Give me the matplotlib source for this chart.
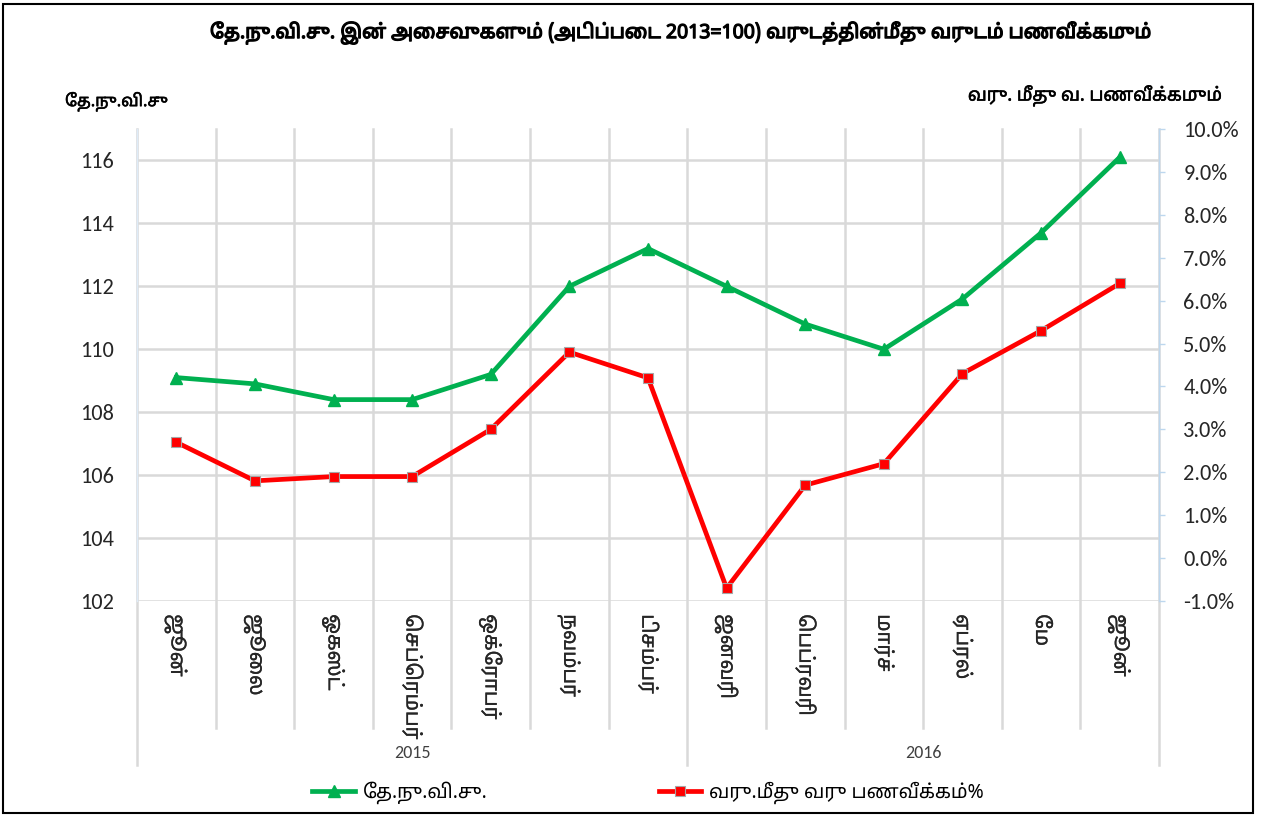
import matplotlib
matplotlib.use("Agg")
import matplotlib.pyplot as plt
import matplotlib.patheffects as pe
from matplotlib.lines import Line2D
from matplotlib.patches import Rectangle
from matplotlib.ticker import FixedLocator, FuncFormatter
import matplotlib.transforms as mtransforms

# ---- data -------------------------------------------------------------
months = ["ஜூன்", "ஜூலை", "ஓகஸ்ட்", "செப்ரெம்பர்", "ஒக்ரோபர்", "நவம்பர்",
          "டிசம்பர்", "ஜனவரி", "பெப்ரவரி", "மார்ச்", "ஏப்ரல்", "மே", "ஜூன்"]
years = ["2015", "2016"]
months_per_year = [7, 6]
ccpi = [109.1, 108.9, 108.4, 108.4, 109.2, 112.0, 113.2,
        112.0, 110.8, 110.0, 111.6, 113.7, 116.1]
inflation = [2.7, 1.8, 1.9, 1.9, 3.0, 4.8, 4.2,
             -0.7, 1.7, 2.2, 4.3, 5.3, 6.4]
left_ticks = [102, 104, 106, 108, 110, 112, 114, 116]
right_ticks = [-1, 0, 1, 2, 3, 4, 5, 6, 7, 8, 9, 10]

title = "தே.நு.வி.சு. இன் அசைவுகளும் (அடிப்படை 2013=100) வருடத்தின்மீது வருடம் பணவீக்கமும்"
left_label = "தே.நு.வி.சு"
right_label = "வரு. மீது வ. பணவீக்கமும்"
ccpi_name = "தே.நு.வி.சு."
infl_name = "வரு.மீது வரு பணவீக்கம்%"

# ---- fonts ------------------------------------------------------------
TAMIL = ["Noto Sans Tamil", "Carlito", "Liberation Sans", "DejaVu Sans"]
LATIN = ["Carlito", "Liberation Sans", "DejaVu Sans"]
plt.rcParams["font.family"] = TAMIL

# matplotlib has no complex-script shaping, so prefix vowel signs are moved
# in front of their consonant and two-part vowel signs are split for display.
PRE = {"\u0BC6", "\u0BC7", "\u0BC8"}
SPLIT = {"\u0BCA": ("\u0BC6", "\u0BBE"), "\u0BCB": ("\u0BC7", "\u0BBE"),
         "\u0BCC": ("\u0BC6", "\u0BD7")}


def vis(s):
    out = []
    for ch in s:
        if ch in PRE and out:
            out.insert(len(out) - 1, ch)
        elif ch in SPLIT and out:
            a, b = SPLIT[ch]
            out.insert(len(out) - 1, a)
            out.append(b)
        else:
            out.append(ch)
    return "".join(out)


BOLD = [pe.withStroke(linewidth=0.9, foreground="black")]
SEMI = [pe.withStroke(linewidth=0.4, foreground="black")]
THIN = [pe.withStroke(linewidth=0.2, foreground="#262626")]

GREEN = "#00b050"
RED = "#ff0000"
GRID = "#d9d9d9"
AXIS_BLUE = "#bdd7ee"

W, H = 1263, 818
fig = plt.figure(figsize=(W / 100, H / 100), dpi=100)
fig.patch.set_facecolor("white")

x0, x1, ytop, ybot = 137, 1159, 129, 601
ax = fig.add_axes([x0 / W, 1 - ybot / H, (x1 - x0) / W, (ybot - ytop) / H])
ax2 = ax.twinx()

xs = list(range(len(months)))
ax.set_xlim(-0.5, len(months) - 0.5)
ax.set_ylim(102, 117)
ax2.set_ylim(-1, 10)

# grid
for t in left_ticks:
    ax.axhline(t, color=GRID, lw=1.8, zorder=0)
bt = mtransforms.blended_transform_factory(ax.transData, ax.transAxes)
bounds = [b - 0.5 for b in range(len(months) + 1)]
year_edges = [-0.5]
for n in months_per_year:
    year_edges.append(year_edges[-1] + n)
for b in bounds:
    low = -0.347 if b in year_edges else -0.269
    ax.plot([b, b], [1, low], transform=bt, color=GRID, lw=1.8,
            clip_on=False, zorder=0)

# series
ax.plot(xs, ccpi, color=GREEN, lw=3.4, marker="^", ms=8.5,
        mfc=GREEN, mec=GREEN, zorder=3, solid_joinstyle="round")
ax2.plot(xs, inflation, color=RED, lw=3.4, marker="s", ms=7.5,
         mfc=RED, mec="#a6a6a6", mew=0.8, zorder=3, solid_joinstyle="round")

# spines
for s in ["top", "bottom", "left", "right"]:
    ax.spines[s].set_visible(False)
    ax2.spines[s].set_visible(False)
ax.spines["left"].set_visible(True)
ax.spines["left"].set_color("#deebf7")
ax.spines["left"].set_linewidth(1.0)
ax2.spines["right"].set_visible(True)
ax2.spines["right"].set_color(AXIS_BLUE)
ax2.spines["right"].set_linewidth(1.0)

# left axis
ax.yaxis.set_major_locator(FixedLocator(left_ticks))
ax.tick_params(axis="y", length=0, pad=16.5, labelsize=16, labelcolor="#262626")
for lab in ax.get_yticklabels():
    lab.set_family(LATIN)

# right axis
ax2.yaxis.set_major_locator(FixedLocator(right_ticks))
ax2.yaxis.set_major_formatter(FuncFormatter(lambda v, p: f"{v:.1f}%"))
ax2.tick_params(axis="y", length=4.5, width=1, color=AXIS_BLUE, pad=13,
                labelsize=16, labelcolor="#262626")
for lab in ax2.get_yticklabels():
    lab.set_family(LATIN)

# category axis
ax.set_xticks(xs)
ax.set_xticklabels([vis(m) for m in months], rotation=-90, fontsize=14.5,
                   va="top", ha="center", color="#262626")
for lab in ax.get_xticklabels():
    lab.set_path_effects(THIN)
ax.tick_params(axis="x", length=0, pad=9.5)

for i, yr in enumerate(years):
    c = (year_edges[i] + year_edges[i + 1]) / 2
    ax.text(c, -0.322, yr, transform=bt, ha="center", va="center",
            fontsize=13, family=LATIN, color="#404040")

# titles
fig.text(680 / W, 1 - 33 / H, vis(title), ha="center", va="center",
         fontsize=14, color="black", path_effects=BOLD)
fig.text(65 / W, 1 - 102 / H, vis(left_label), ha="left", va="center",
         fontsize=12, color="black", path_effects=SEMI)
fig.text(1222 / W, 1 - 96 / H, vis(right_label), ha="right", va="center",
         fontsize=13, color="black", path_effects=SEMI)

# legend
handles = [Line2D([], [], color=GREEN, lw=3.4, marker="^", ms=8.5),
           Line2D([], [], color=RED, lw=3.4, marker="s", ms=7.5,
                  mec="#a6a6a6", mew=0.8)]
leg = fig.legend(handles, [vis(ccpi_name), vis(infl_name)], ncol=2,
                 loc="center", bbox_to_anchor=(648 / W, 1 - 793 / H),
                 frameon=False, fontsize=14, handlelength=2.2,
                 handletextpad=0.4, columnspacing=8.8)

# outer frame
fig.add_artist(Rectangle((3 / W, 5 / H), 1250 / W, 809 / H,
                         transform=fig.transFigure, fill=False,
                         edgecolor="black", lw=1.5))

fig.savefig("out.png", dpi=100)
